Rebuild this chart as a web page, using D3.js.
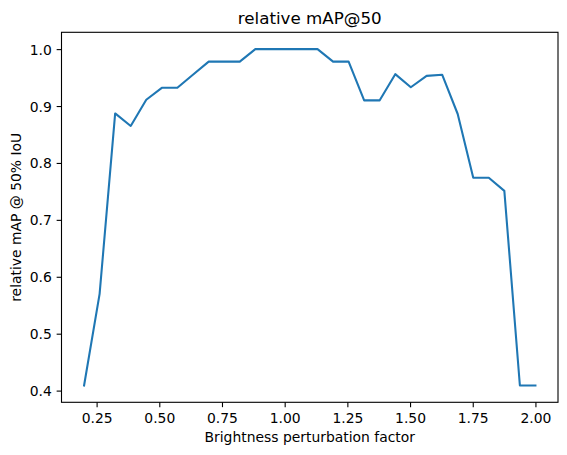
<!DOCTYPE html>
<html>
<head>
<meta charset="utf-8">
<script src="https://cdn.jsdelivr.net/npm/d3@7"></script>
<style>
  html, body { margin: 0; padding: 0; background: #fff; }
  svg { display: block; }
  text { font-family: "DejaVu Sans", sans-serif; fill: #000; }
</style>
</head>
<body>
<script>
// Data
const factors = [0.2, 0.262, 0.324, 0.386, 0.448, 0.510, 0.572, 0.634, 0.697, 0.759,
                 0.821, 0.883, 0.945, 1.007, 1.069, 1.131, 1.193, 1.255, 1.317, 1.379,
                 1.441, 1.503, 1.566, 1.628, 1.690, 1.752, 1.814, 1.876, 1.938, 2.0];
const relMAP = [0.409, 0.570, 0.887, 0.865, 0.911, 0.932, 0.932, 0.955, 0.978, 0.978,
                0.978, 1.0, 1.0, 1.0, 1.0, 1.0, 0.978, 0.978, 0.910, 0.910,
                0.956, 0.933, 0.953, 0.955, 0.886, 0.774, 0.774, 0.751, 0.409, 0.409];
const xTicks = [0.25, 0.50, 0.75, 1.00, 1.25, 1.50, 1.75, 2.00];
const yTicks = [0.4, 0.5, 0.6, 0.7, 0.8, 0.9, 1.0];
const titleText = "relative mAP@50";
const xLabel = "Brightness perturbation factor";
const yLabel = "relative mAP @ 50% IoU";

(function () {
const W = 567, H = 455;
const mLeft = 61.5, mRight = 558, mTop = 32.3, mBottom = 402.3;

const svg = d3.select("body").append("svg").attr("width", W).attr("height", H);

const xMin = d3.min(factors), xMax = d3.max(factors);
const yMin = d3.min(relMAP), yMax = d3.max(relMAP);
const xm = (xMax - xMin) * 0.05, ym = (yMax - yMin) * 0.05;

const x = d3.scaleLinear().domain([xMin - xm, xMax + xm]).range([mLeft, mRight]);
const y = d3.scaleLinear().domain([yMin - ym, yMax + ym]).range([mBottom, mTop]);

const tickLen = 4.86, pad = 4.86, fs = 13.9;

// x axis
const xAxis = d3.axisBottom(x).tickValues(xTicks).tickFormat(d3.format(".2f"))
  .tickSizeInner(tickLen).tickSizeOuter(0).tickPadding(pad);
const gx = svg.append("g").attr("transform", `translate(0,${mBottom})`).call(xAxis);
gx.select(".domain").remove();
gx.selectAll("line").attr("stroke", "#000").attr("stroke-width", 1.1);
gx.selectAll("text").attr("font-size", fs).attr("font-family", "DejaVu Sans").attr("fill", "#000")
  .attr("dy", "0.76em");

// y axis
const yAxis = d3.axisLeft(y).tickValues(yTicks).tickFormat(d3.format(".1f"))
  .tickSizeInner(tickLen).tickSizeOuter(0).tickPadding(pad);
const gy = svg.append("g").attr("transform", `translate(${mLeft},0)`).call(yAxis);
gy.select(".domain").remove();
gy.selectAll("line").attr("stroke", "#000").attr("stroke-width", 1.1);
gy.selectAll("text").attr("font-size", fs).attr("font-family", "DejaVu Sans").attr("fill", "#000")
  .attr("dy", "0.36em");

// line
const line = d3.line().x((d, i) => x(factors[i])).y(d => y(d));
svg.append("path").datum(relMAP)
  .attr("d", line)
  .attr("fill", "none")
  .attr("stroke", "#1f77b4")
  .attr("stroke-width", 2.08)
  .attr("stroke-linejoin", "round")
  .attr("stroke-linecap", "square");

// spines
svg.append("rect").attr("x", mLeft).attr("y", mTop)
  .attr("width", mRight - mLeft).attr("height", mBottom - mTop)
  .attr("fill", "none").attr("stroke", "#000").attr("stroke-width", 1.1);

// title
svg.append("text").attr("x", (mLeft + mRight) / 2).attr("y", 24)
  .attr("text-anchor", "middle").attr("font-size", 16.7).text(titleText);

// x label
svg.append("text").attr("x", (mLeft + mRight) / 2).attr("y", 441.5)
  .attr("text-anchor", "middle").attr("font-size", fs).text(xLabel);

// y label
svg.append("text").attr("transform", `translate(21,${(mTop + mBottom) / 2}) rotate(-90)`)
  .attr("text-anchor", "middle").attr("font-size", fs).text(yLabel);
})();
</script>
</body>
</html>
